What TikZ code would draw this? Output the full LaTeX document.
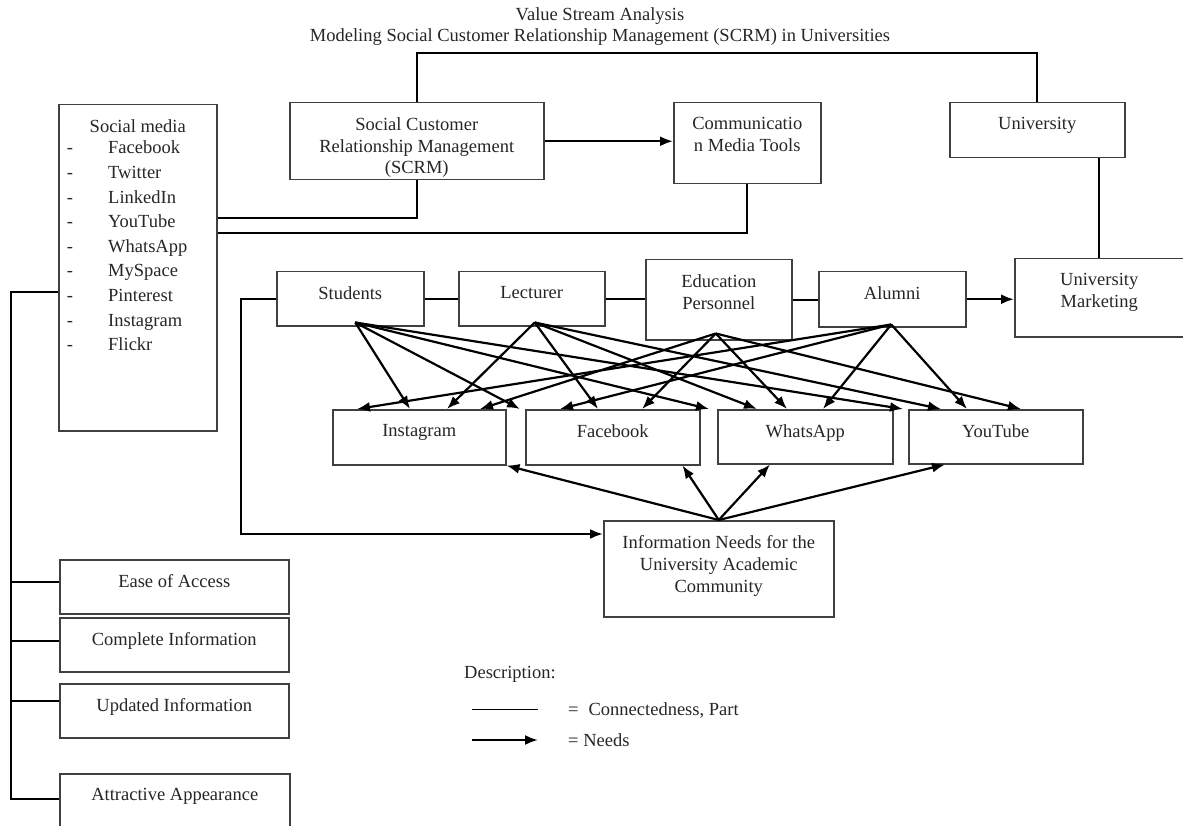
\documentclass[tikz,border=0pt]{standalone}
\usepackage{fontspec}
\setmainfont{Liberation Serif}
\usetikzlibrary{arrows.meta}
\newcommand{\figfont}{\fontsize{18.5}{21.8}\selectfont}

\tikzset{
  blk/.style 2 args={draw=black!75, line width=1.5pt, fill=white, rectangle, inner sep=0pt,
    anchor=north west, minimum width=#1pt, minimum height=#2pt},
  lbl/.style={anchor=north, yshift=-15.2pt, align=center, inner sep=0pt, font=\figfont, text=black!85},
  txt/.style={inner sep=0pt, font=\figfont, text=black!85},
  link/.style={line width=2.2pt},
  need/.style={line width=2.2pt, -{Latex[length=13pt,width=10pt]}},
}

\begin{document}
\begin{tikzpicture}[x=1pt, y=-1pt]
  \useasboundingbox (0,0) rectangle (1183,826);
  \clip (0,0) rectangle (1183,826);

  % title
  \node[txt, anchor=base] (title1) at (600,21) {Value Stream Analysis};
  \node[txt, anchor=base] (title2) at (600,42) {Modeling Social Customer Relationship Management (SCRM) in Universities};

  % boxes
  \node[blk={158}{326}, label={[lbl]north:Social media}] (socmed) at (58,104) {};
  \node[blk={254}{77}, label={[lbl]north:Social Customer\\Relationship Management\\(SCRM)}] (scrm) at (289,102) {};
  \node[blk={147}{81}, label={[lbl]north:Communicatio\\n Media Tools}] (comm) at (673,102) {};
  \node[blk={175}{55}, label={[lbl]north:University}] (univ) at (949,102) {};
  \node[blk={169}{78}, label={[lbl]north:University\\Marketing}] (umkt) at (1014,258) {};

  \node[blk={147}{54}, label={[lbl]north:Students}] (stud) at (276,271) {};
  \node[blk={146}{54}, label={[lbl]north:Lecturer}] (lect) at (458,271) {};
  \node[blk={146}{80}, label={[lbl]north:Education\\Personnel}] (edu) at (645,259) {};
  \node[blk={147}{55}, label={[lbl]north:Alumni}] (alum) at (818,271) {};

  \node[blk={173}{55}, label={[lbl]north:Instagram}] (insta) at (332,409) {};
  \node[blk={174}{55}, label={[lbl]north:Facebook}] (fb) at (525,409) {};
  \node[blk={175}{54}, label={[lbl]north:WhatsApp}] (wa) at (717,409) {};
  \node[blk={174}{54}, label={[lbl]north:YouTube}] (yt) at (908,409) {};

  \node[blk={230}{96}, label={[lbl]north:Information Needs for the\\University Academic\\Community}] (info) at (603,520) {};

  \node[blk={229}{54}, label={[lbl]north:Ease of Access}] (ease) at (59,559) {};
  \node[blk={229}{54}, label={[lbl]north:Complete Information}] (compl) at (59,617) {};
  \node[blk={229}{54}, label={[lbl]north:Updated Information}] (upd) at (59,683) {};
  \node[blk={230}{70}, label={[lbl]north:Attractive Appearance}] (attr) at (59,773) {};

  % social media list
  \foreach \sm [count=\i] in {Facebook,Twitter,LinkedIn,YouTube,WhatsApp,MySpace,Pinterest,Instagram,Flickr}{
    \node[txt, anchor=base] (dash\i) at (70,129.4+24.6*\i) {-};
    \node[txt, anchor=base west] (sm\i) at (108,129.4+24.6*\i) {\sm};
  }

  % top connections
  \coordinate (topbar) at (0,53);
  \draw[link] (scrm.north) -- (scrm.north |- topbar) -| (univ.north);
  \draw[link] (univ.south -| umkt.north) -- (umkt.north);
  \draw[need] (scrm.east) -- (scrm.east -| comm.west);
  \draw[link] ([yshift=-114pt]socmed.north east) -| (scrm.south);
  \draw[link] ([yshift=-129pt]socmed.north east) -| (comm.south);

  % left bus
  \coordinate (bus) at (11,292);
  \draw[link] ([yshift=-188pt]socmed.north west) -- (bus) |- ([yshift=-26pt]attr.north west);
  \foreach \b/\d in {ease/23,compl/24,upd/18}
    \draw[link] ([yshift=-\d pt]\b.north west) -| (bus);

  % academic community row
  \draw[link] (stud.east) -- (stud.east -| lect.west);
  \draw[link] (lect.east) -- (lect.east -| edu.west);
  \draw[link] (edu.east) -- (edu.east -| alum.west);
  \draw[need] (alum.east) -- (alum.east -| umkt.west);
  \draw[need] (stud.west) -- ++(-35,0) |- ([yshift=-14pt]info.north west);

  % needs towards the media
  \coordinate (fS) at ([xshift=5pt,yshift=4pt]stud.south);
  \coordinate (fL) at ([xshift=3pt,yshift=4pt]lect.south);
  \coordinate (fE) at ([xshift=-3pt,yshift=7pt]edu.south);
  \coordinate (fA) at ([xshift=-1pt,yshift=3pt]alum.south);
  \foreach \s/\t/\d in {fS/insta/78, fS/fb/-5, fS/wa/-8, fS/yt/-5,
      fL/insta/115, fL/fb/73, fL/wa/40, fL/yt/33,
      fE/insta/148, fE/fb/117, fE/wa/70, fE/yt/113,
      fA/insta/25, fA/fb/35, fA/wa/106, fA/yt/59}
    \draw[need] (\s) -- ([xshift=\d pt]\t.north west);

  \draw[need] (info.north) -- (insta.south east);
  \draw[need] (info.north) -- ([xshift=-18pt]fb.south east);
  \draw[need] (info.north) -- ([xshift=53pt]wa.south west);
  \draw[need] (info.north) -- ([xshift=37pt]yt.south west);

  % legend
  \node[txt, anchor=base west] (desc) at (464,678) {Description:};
  \coordinate (lgA) at (472,709);
  \coordinate (lgB) at (538,709);
  \draw[line width=1pt] (lgA) -- (lgB);
  \node[txt, anchor=base west] (lgpart) at (568,715) {=\hspace{10pt}Connectedness, Part};
  \coordinate (lgC) at (472,740);
  \coordinate (lgD) at (538,740);
  \draw[need] (lgC) -- (lgD);
  \node[txt, anchor=base west] (lgneed) at (568,746) {= Needs};
\end{tikzpicture}
\end{document}
